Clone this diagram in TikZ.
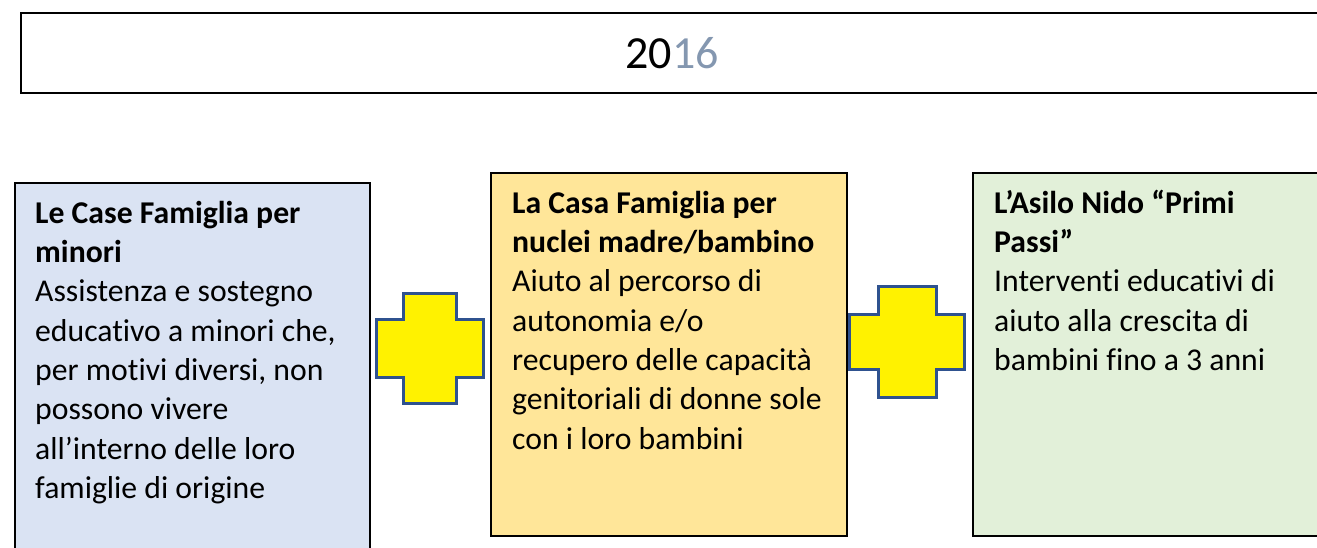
\documentclass[tikz,border=0pt]{standalone}
\usepackage{fontspec}
\setmainfont[Ligatures=NoCommon]{Carlito}
\definecolor{bluefill}{HTML}{DAE3F3}
\definecolor{goldfill}{HTML}{FFE699}
\definecolor{greenfill}{HTML}{E2F0D9}
\definecolor{plusedge}{HTML}{2F528F}
\definecolor{yearblue}{HTML}{8497B0}
\begin{document}
\begin{tikzpicture}[x=1pt,y=-1pt,
  panel/.style={draw=black,line width=1.5pt,anchor=north west,inner sep=0pt},
  plusshape/.style={draw=plusedge,fill=yellow,line width=3pt,line join=miter},
  txt/.style={anchor=north west,align=left,inner sep=0pt,font=\fontsize{31.7}{39.3}\selectfont}]
\useasboundingbox (0,0) rectangle (1317,547);
\begin{scope}
\clip (0,0) rectangle (1317,547);
\node[panel,minimum width=1330pt,minimum height=80pt] (titlebox) at (20,12) {};
\node[panel,fill=bluefill,minimum width=355pt,minimum height=400pt] (box1) at (14,182) {};
\node[panel,fill=goldfill,minimum width=356pt,minimum height=363pt] (box2) at (490,172) {};
\node[panel,fill=greenfill,minimum width=400pt,minimum height=363pt] (box3) at (972,172) {};
\end{scope}
\node[anchor=base,inner sep=0pt,font=\fontsize{46}{46}\selectfont] (year) at (672,68) {20\textcolor{yearblue}{16}};
\node[txt] (t1) at (35,198) {\rule{0pt}{25pt}\textbf{Le Case Famiglia per}\\\textbf{minori}\\Assistenza e sostegno\\educativo a minori che,\\per motivi diversi, non\\possono vivere\\all’interno delle loro\\famiglie di origine};
\node[txt] (t2) at (512,188) {\rule{0pt}{25pt}\textbf{La Casa Famiglia per}\\\textbf{nuclei madre/bambino}\\Aiuto al percorso di\\autonomia e/o\\recupero delle capacità\\genitoriali di donne sole\\con i loro bambini};
\node[txt] (t3) at (994,188) {\rule{0pt}{25pt}\textbf{L’Asilo Nido “Primi}\\\textbf{Passi”}\\Interventi educativi di\\aiuto alla crescita di\\bambini fino a 3 anni};
\draw[plusshape] (403,293) -- (456,293) -- (456,319) -- (483,319) -- (483,377) -- (456,377) -- (456,403) -- (403,403) -- (403,377) -- (376,377) -- (376,319) -- (403,319) -- cycle;
\draw[plusshape] (878,286) -- (936,286) -- (936,314) -- (964,314) -- (964,369) -- (936,369) -- (936,397) -- (878,397) -- (878,369) -- (849,369) -- (849,314) -- (878,314) -- cycle;
\end{tikzpicture}
\end{document}
